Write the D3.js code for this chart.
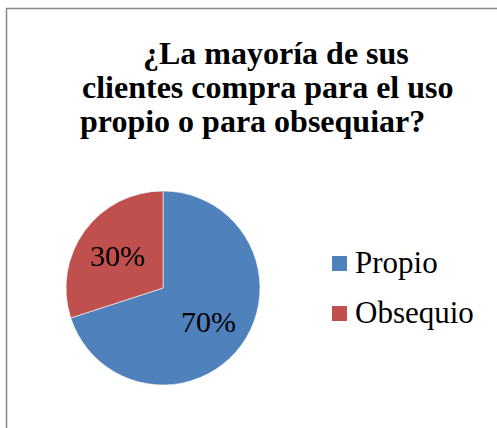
<!DOCTYPE html>
<html>
<head>
<meta charset="utf-8">
<script src="https://cdn.jsdelivr.net/npm/d3@7"></script>
<style>body { margin: 0; background: #fff; }</style>
</head>
<body>
<div id="chart"></div>
<script>
const categories = ["Propio", "Obsequio"];
const values = [70, 30];
const colors = ["#4F81BD", "#C0504D"];
const titleLines = ["¿La mayoría de sus", "clientes compra para el uso", "propio o para obsequiar?"];

const width = 497, height = 428;
const face = "\"Liberation Serif\"";

const svg = d3.select("#chart")
  .append("svg")
  .attr("width", width)
  .attr("height", height)
  .style("font-family", face);

// chart area frame (runs off the right and bottom edges)
svg.append("rect")
  .attr("x", 6.5)
  .attr("y", 8.5)
  .attr("width", 520)
  .attr("height", 450)
  .attr("fill", "none")
  .attr("stroke", "#868686")
  .attr("stroke-width", 1.5);

// title, wrapped the way the original wraps it
const titleX = [143, 82, 80];
svg.append("g")
  .selectAll("text")
  .data(titleLines)
  .join("text")
  .attr("x", (d, i) => titleX[i])
  .attr("y", (d, i) => 64 + i * 34)
  .style("font-size", "32px")
  .style("font-weight", "bold")
  .text(d => d);

// pie
const data = categories.map((c, i) => ({ name: c, value: values[i], color: colors[i] }));
const radius = 97;
const pie = d3.pie().value(d => d.value).sort(null);
const arc = d3.arc().innerRadius(0).outerRadius(radius);
const labelArc = d3.arc().innerRadius(radius * 0.58).outerRadius(radius * 0.58);

const g = svg.append("g").attr("transform", "translate(163,288)");

g.selectAll("path")
  .data(pie(data))
  .join("path")
  .attr("d", arc)
  .attr("fill", d => d.data.color)
  .attr("stroke", "#fff")
  .attr("stroke-width", 0.6);

g.selectAll("text")
  .data(pie(data))
  .join("text")
  .attr("transform", d => `translate(${labelArc.centroid(d)})`)
  .attr("text-anchor", "middle")
  .attr("dy", "0.38em")
  .style("font-size", "30px")
  .text(d => d.data.value + "%");

// legend
const legend = svg.append("g").attr("transform", "translate(332,256)");
const row = legend.selectAll("g")
  .data(data)
  .join("g")
  .attr("transform", (d, i) => `translate(0,${i * 50})`);

row.append("rect")
  .attr("width", 15)
  .attr("height", 15)
  .attr("fill", d => d.color);

row.append("text")
  .attr("x", 23)
  .attr("y", 17)
  .style("font-size", "31px")
  .text(d => d.name);
</script>
</body>
</html>
